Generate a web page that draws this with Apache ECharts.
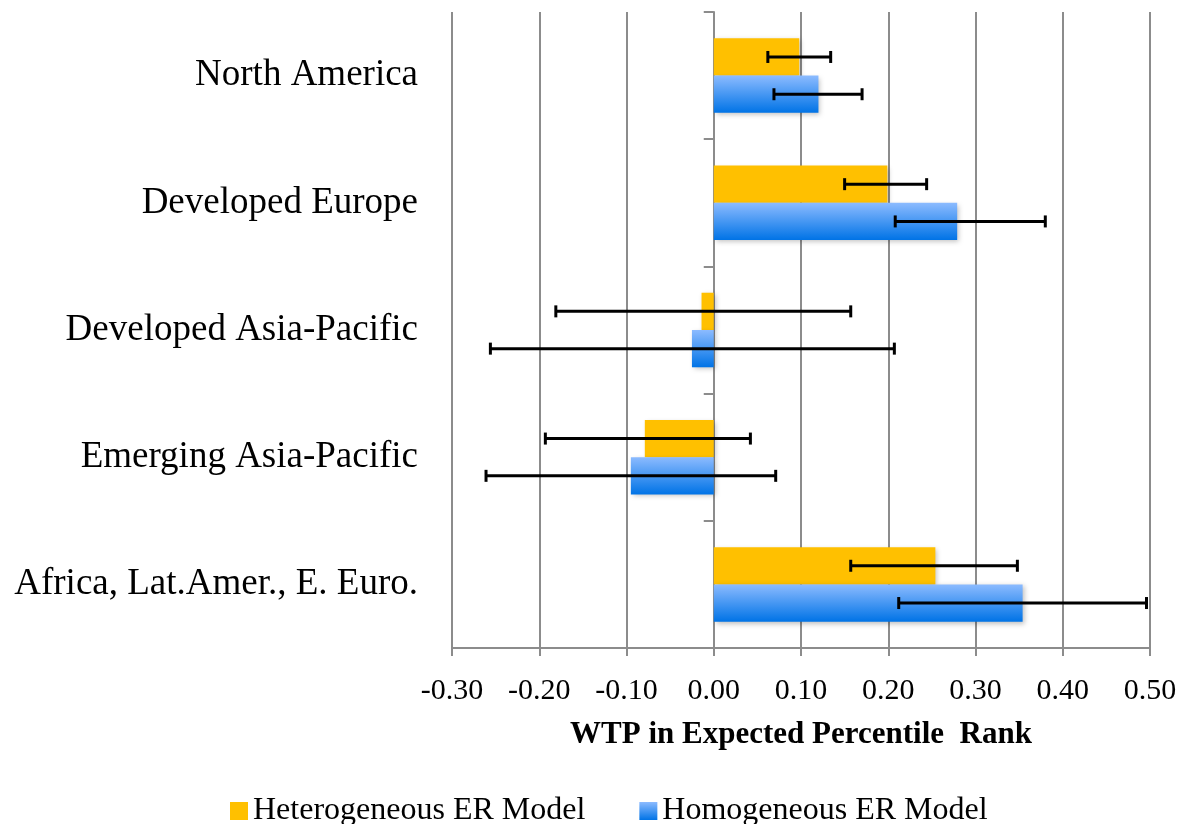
<!DOCTYPE html>
<html>
<head>
<meta charset="utf-8">
<script src="https://cdn.jsdelivr.net/npm/echarts@6/dist/echarts.min.js"></script>
<style>html,body{margin:0;padding:0;background:#fff}#c{width:1184px;height:824px}</style>
</head>
<body>
<div id="c"></div>
<script>
const categories = ['North America', 'Developed Europe', 'Developed Asia-Pacific', 'Emerging Asia-Pacific', 'Africa, Lat.Amer., E. Euro.'];
const hetValues = [0.098, 0.199, -0.014, -0.079, 0.254];
const hetLow = [0.062, 0.150, -0.181, -0.193, 0.157];
const hetHigh = [0.134, 0.244, 0.157, 0.042, 0.348];
const homValues = [0.120, 0.279, -0.025, -0.095, 0.354];
const homLow = [0.069, 0.208, -0.256, -0.261, 0.212];
const homHigh = [0.170, 0.380, 0.207, 0.071, 0.496];
const xTicks = { min: -0.3, max: 0.5, interval: 0.1 };

const FONT = 'Liberation Serif';
const BAR_FRAC = 0.293;
const GRID = { left: 452, right: 34, top: 12, bottom: 176 };
const plotW = 1184 - GRID.left - GRID.right;
const zeroOffset = -plotW * (0 - xTicks.min) / (xTicks.max - xTicks.min);

function errData(low, high) {
  return categories.map((c, i) => [i, low[i], high[i]]);
}
function errRender(sign) {
  return function (params, api) {
    const cat = api.value(0);
    const p1 = api.coord([api.value(1), cat]);
    const p2 = api.coord([api.value(2), cat]);
    const band = api.size([0, 1])[1];
    const y = p1[1] + sign * band * BAR_FRAC / 2;
    const cap = 6;
    const style = { stroke: '#000', lineWidth: 3 };
    return {
      type: 'group',
      children: [
        { type: 'line', shape: { x1: p1[0], y1: y, x2: p2[0], y2: y }, style },
        { type: 'line', shape: { x1: p1[0], y1: y - cap, x2: p1[0], y2: y + cap }, style },
        { type: 'line', shape: { x1: p2[0], y1: y - cap, x2: p2[0], y2: y + cap }, style }
      ]
    };
  };
}

const chart = echarts.init(document.getElementById('c'));
chart.setOption({
  animation: false,
  grid: GRID,
  legend: {
    left: 225, top: 790,
    icon: 'rect',
    itemWidth: 18, itemHeight: 18, itemGap: 54,
    textStyle: { fontFamily: FONT, fontSize: 32, color: '#000' },
    data: ['Heterogeneous ER Model', 'Homogeneous ER Model']
  },
  xAxis: {
    type: 'value', min: xTicks.min, max: xTicks.max, interval: xTicks.interval,
    axisLine: { show: true, onZero: false, lineStyle: { color: '#8c8c8c', width: 2 } },
    axisTick: { show: true, length: 8, lineStyle: { color: '#8c8c8c', width: 2 } },
    splitLine: { show: true, lineStyle: { color: '#8c8c8c', width: 2 } },
    axisLabel: { fontFamily: FONT, fontSize: 30, color: '#000', margin: 28, formatter: v => v.toFixed(2) },
    name: 'WTP in Expected Percentile  Rank',
    nameLocation: 'middle', nameGap: 71,
    nameTextStyle: { fontFamily: FONT, fontSize: 31, fontWeight: 'bold', color: '#000' }
  },
  yAxis: [
    {
      type: 'category', data: categories, inverse: true,
      axisLine: { show: false }, axisTick: { show: false },
      axisLabel: { fontFamily: FONT, fontSize: 37, color: '#000', margin: 34 }
    },
    {
      type: 'category', data: categories, inverse: true, position: 'left',
      offset: zeroOffset,
      axisLine: { show: true, onZero: false, lineStyle: { color: '#8c8c8c', width: 2 } },
      axisTick: { show: true, length: 10, lineStyle: { color: '#8c8c8c', width: 2 } },
      axisLabel: { show: false }
    }
  ],
  series: [
    {
      name: 'Heterogeneous ER Model', type: 'bar', data: hetValues,
      barGap: '0%', barCategoryGap: '41.4%',
      itemStyle: { color: '#FFC000', shadowBlur: 5, shadowColor: 'rgba(0,0,0,0.25)', shadowOffsetX: 2, shadowOffsetY: 2 }
    },
    {
      name: 'Homogeneous ER Model', type: 'bar', data: homValues,
      barGap: '0%', barCategoryGap: '41.4%',
      itemStyle: {
        color: new echarts.graphic.LinearGradient(0, 0, 0, 1, [
          { offset: 0, color: '#8CBBFF' }, { offset: 1, color: '#0073E6' }
        ]),
        shadowBlur: 5, shadowColor: 'rgba(0,0,0,0.25)', shadowOffsetX: 2, shadowOffsetY: 2
      }
    },
    {
      type: 'custom', renderItem: errRender(-1), data: errData(hetLow, hetHigh),
      encode: { x: [1, 2], y: 0 }, z: 5, silent: true
    },
    {
      type: 'custom', renderItem: errRender(1), data: errData(homLow, homHigh),
      encode: { x: [1, 2], y: 0 }, z: 5, silent: true
    }
  ]
});
</script>
</body>
</html>
